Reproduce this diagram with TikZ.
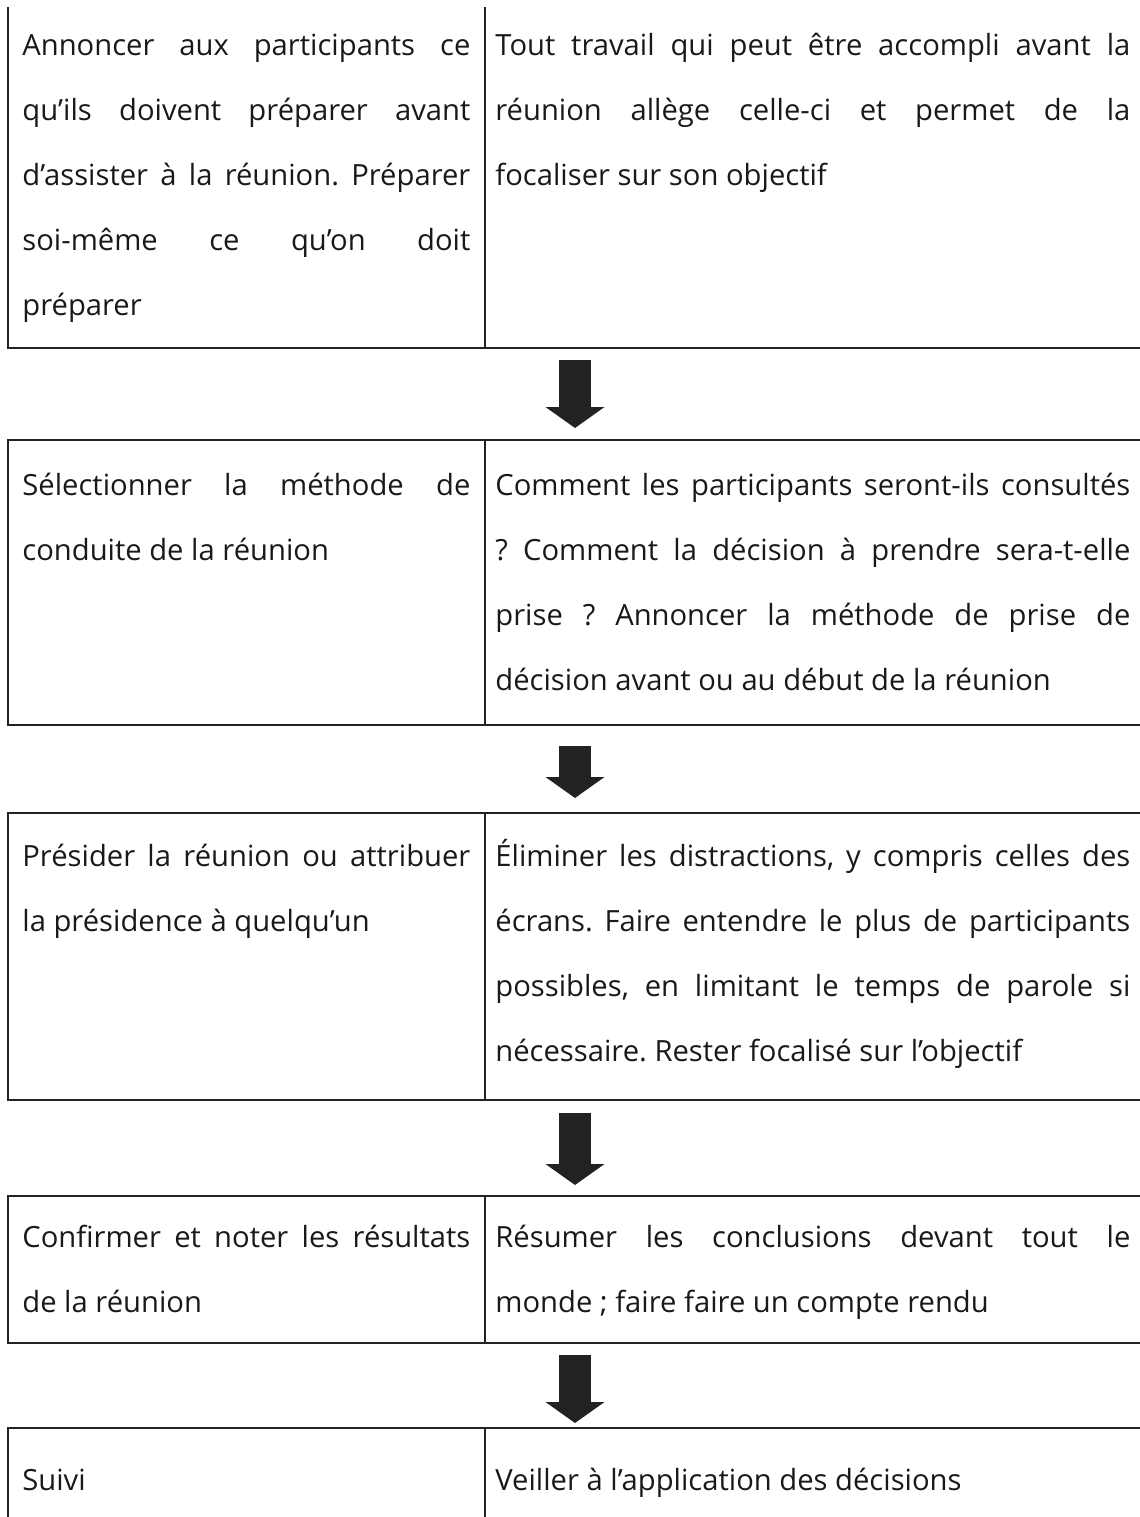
\documentclass[tikz,border=0pt]{standalone}
\usepackage{fontspec}
\setmainfont{Open Sans}
\usepackage{xcolor}
\usetikzlibrary{arrows.meta,positioning}
\definecolor{rulegray}{RGB}{34,34,34}
\hyphenpenalty=10000
\exhyphenpenalty=10000
\frenchspacing

\begin{document}
\begin{tikzpicture}[
node distance=46pt,
rowbox/.style={minimum width=567pt, inner sep=0pt, outer sep=0pt},
cell/.style={anchor=base west, inner sep=0pt, align=justify, text=black!90, font=\fontsize{14.6pt}{32.5pt}\selectfont},
lcell/.style={cell, text width=224pt},
rcell/.style={cell, text width=317.5pt},
grid/.style={draw=rulegray, line width=1.1pt},
downarrow/.style={draw=rulegray, line width=16pt, -{Triangle[width=29pt, length=10.5pt]}}
]
\useasboundingbox (0,0) rectangle (570pt,-758.5pt);
% rows of the table
\node[rowbox, minimum height=170.5pt] (r1) at (287.5pt,-88.75pt) {};
\node[rowbox, minimum height=142.5pt, below=46pt of r1] (r2) {};
\node[rowbox, minimum height=143.5pt, below=44pt of r2] (r3) {};
\node[rowbox, minimum height=73.5pt, below=48pt of r3] (r4) {};
\node[rowbox, minimum height=61pt, below=42.5pt of r4] (r5) {};
\draw[grid] (r1.north west) |- (r1.south east);
\draw[grid] (r2.north west) rectangle (r2.south east);
\draw[grid] (r3.north west) rectangle (r3.south east);
\draw[grid] (r4.north west) rectangle (r4.south east);
\draw[grid] (r5.north west) rectangle (r5.south east);
\draw[grid] ([xshift=238.5pt]r1.north west) -- ([xshift=238.5pt]r1.south west);
\draw[grid] ([xshift=238.5pt]r2.north west) -- ([xshift=238.5pt]r2.south west);
\draw[grid] ([xshift=238.5pt]r3.north west) -- ([xshift=238.5pt]r3.south west);
\draw[grid] ([xshift=238.5pt]r4.north west) -- ([xshift=238.5pt]r4.south west);
\draw[grid] ([xshift=238.5pt]r5.north west) -- ([xshift=238.5pt]r5.south west);
% cell texts
\node[lcell] (a1) at ([xshift=7pt,yshift=-24pt]r1.north west) {Annoncer aux participants ce\linebreak qu’ils doivent préparer avant\linebreak d’assister à la réunion. Préparer\linebreak soi-même ce qu’on doit\linebreak préparer};
\node[rcell] (b1) at ([xshift=243.5pt,yshift=-24pt]r1.north west) {Tout travail qui peut être accompli avant la\linebreak réunion allège celle-ci et permet de la\linebreak focaliser sur son objectif};
\node[lcell] (a2) at ([xshift=7pt,yshift=-27.5pt]r2.north west) {Sélectionner la méthode de\linebreak conduite de la réunion};
\node[rcell] (b2) at ([xshift=243.5pt,yshift=-27.5pt]r2.north west) {Comment les participants seront-ils consultés\linebreak ? Comment la décision à prendre sera-t-elle\linebreak prise ? Annoncer la méthode de prise de\linebreak décision avant ou au début de la réunion};
\node[lcell] (a3) at ([xshift=7pt,yshift=-26.5pt]r3.north west) {Présider la réunion ou attribuer\linebreak la présidence à quelqu’un};
\node[rcell] (b3) at ([xshift=243.5pt,yshift=-26.5pt]r3.north west) {Éliminer les distractions, y compris celles des\linebreak écrans. Faire entendre le plus de participants\linebreak possibles, en limitant le temps de parole si\linebreak nécessaire. Rester focalisé sur l’objectif};
\node[lcell] (a4) at ([xshift=7pt,yshift=-25.5pt]r4.north west) {Confirmer et noter les résultats\linebreak de la réunion};
\node[rcell] (b4) at ([xshift=243.5pt,yshift=-25.5pt]r4.north west) {Résumer les conclusions devant tout le\linebreak monde ; faire faire un compte rendu};
\node[lcell] (a5) at ([xshift=7pt,yshift=-31pt]r5.north west) {Suivi};
\node[rcell] (b5) at ([xshift=243.5pt,yshift=-31pt]r5.north west) {Veiller à l’application des décisions};
% arrows between rows
\draw[downarrow] ([yshift=-6pt]r1.south) -- ([yshift=6pt]r2.north);
\draw[downarrow] ([yshift=-10.5pt]r2.south) -- ([yshift=7.5pt]r3.north);
\draw[downarrow] ([yshift=-6.5pt]r3.south) -- ([yshift=5.5pt]r4.north);
\draw[downarrow] ([yshift=-6pt]r4.south) -- ([yshift=2.5pt]r5.north);
\end{tikzpicture}
\end{document}
